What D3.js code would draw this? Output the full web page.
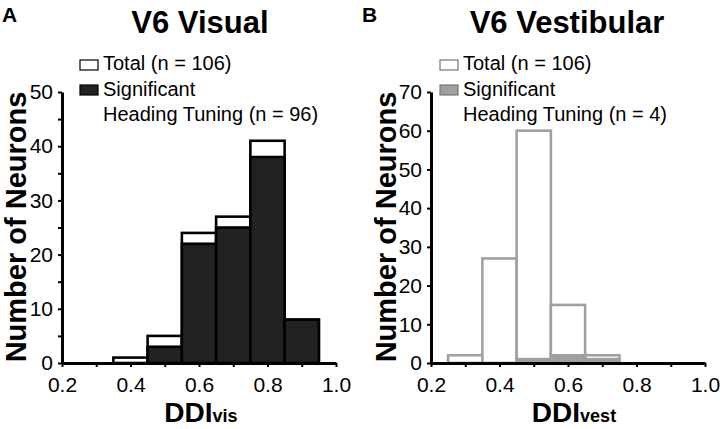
<!DOCTYPE html>
<html><head><meta charset="utf-8">
<script src="https://cdn.jsdelivr.net/npm/d3@7"></script>
<style>
body{margin:0;background:#fff;}
svg{display:block;font-family:"Liberation Sans",Arial,sans-serif;}
</style></head>
<body>
<svg id="c" width="720" height="429"></svg>
<script>
// Data
const binStartsA = [0.35, 0.45, 0.55, 0.65, 0.75, 0.85];
const totalA = [1, 5, 24, 27, 41, 8];
const sigA = [0, 3, 22, 25, 38, 8];
const binStartsB = [0.25, 0.35, 0.45, 0.55, 0.65];
const totalB = [2, 27, 60, 15, 2];
const sigB = [0, 0, 1, 2, 1];
const binWidth = 0.1;
const xTicks = [0.2, 0.3, 0.4, 0.5, 0.6, 0.7, 0.8, 0.9, 1.0];
const yTicksA = [0, 5, 10, 15, 20, 25, 30, 35, 40, 45, 50];
const yTicksB = [0, 10, 20, 30, 40, 50, 60, 70];

const svg = d3.select("#c");

const panels = [
  {letter:"A", title:"V6 Visual", xr:[62,336], ymax:50, yTicks:yTicksA, starts:binStartsA, total:totalA, sig:sigA,
   stroke:"#000", sigFill:"#222", legendTotal:"Total (n = 106)", legendSig:["Significant","Heading Tuning (n = 96)"],
   xlab:"DDI", sub:"vis", letterX:2, titleX:200, legX:80, xlabX:201, ylabX:26},
  {letter:"B", title:"V6 Vestibular", xr:[431,705], ymax:70, yTicks:yTicksB, starts:binStartsB, total:totalB, sig:sigB,
   stroke:"#a0a0a0", sigFill:"#a0a0a0", legendTotal:"Total (n = 106)", legendSig:["Significant","Heading Tuning (n = 4)"],
   xlab:"DDI", sub:"vest", letterX:362, titleX:567, legX:440, xlabX:574, ylabX:396}
];

panels.forEach(p => {
  const x = d3.scaleLinear().domain([0.2, 1.0]).range(p.xr);
  const y = d3.scaleLinear().domain([0, p.ymax]).range([363, 92]);
  const g = svg.append("g");

  const data = p.starts.map((s,i)=>({s, t:p.total[i], g:p.sig[i]}));
  g.selectAll("rect.tot").data(data).join("rect").attr("class","tot")
    .attr("x", d=>x(d.s)).attr("width", d=>x(d.s+binWidth)-x(d.s))
    .attr("y", d=>y(d.t)).attr("height", d=>y(0)-y(d.t))
    .attr("fill","#fff").attr("stroke", p.stroke).attr("stroke-width", 2.6);
  g.selectAll("rect.sig").data(data.filter(d=>d.g>0)).join("rect").attr("class","sig")
    .attr("x", d=>x(d.s)).attr("width", d=>x(d.s+binWidth)-x(d.s))
    .attr("y", d=>y(d.g)).attr("height", d=>y(0)-y(d.g))
    .attr("fill", p.sigFill).attr("stroke", p.letter==="A" ? "#000" : p.sigFill).attr("stroke-width", 2.6);

  const xAxis = d3.axisBottom(x).tickValues(xTicks).tickSize(4).tickSizeOuter(0)
    .tickFormat(d => (Math.round(d*10)%2===0) ? d3.format(".1f")(d) : "");
  const xg = g.append("g").attr("transform","translate(0,363)").call(xAxis);
  const yAxis = d3.axisLeft(y).tickValues(p.yTicks).tickSize(4).tickSizeOuter(0)
    .tickFormat(d => d%10===0 ? d : "");
  const yg = g.append("g").attr("transform",`translate(${p.xr[0]},0)`).call(yAxis);
  [xg, yg].forEach(a => {
    a.select(".domain").attr("stroke","#000").attr("stroke-width",3);
    a.selectAll(".tick line").attr("stroke","#000").attr("stroke-width",2);
    a.selectAll(".tick text").attr("fill","#000").attr("font-size",21)
      .attr("font-family",'"Liberation Sans",Arial,sans-serif');
  });
  xg.selectAll(".tick text").attr("dy","0.71em").attr("y",14);
  yg.selectAll(".tick text").attr("x",-9);

  svg.append("text").attr("x",p.letterX).attr("y",22).attr("font-size",21).attr("font-weight","bold").text(p.letter);
  svg.append("text").attr("x",p.titleX).attr("y",33).attr("text-anchor","middle").attr("font-size",31).attr("font-weight","bold").text(p.title);

  svg.append("rect").attr("x",p.legX).attr("y",60).attr("width",18).attr("height",10)
    .attr("fill","#fff").attr("stroke", p.letter==="A"?"#000":"#777").attr("stroke-width",1.2);
  svg.append("rect").attr("x",p.legX).attr("y",85).attr("width",18).attr("height",10)
    .attr("fill", p.letter==="A"?"#222":"#a0a0a0").attr("stroke", p.letter==="A"?"#000":"#777").attr("stroke-width",1.2);
  svg.append("text").attr("x",p.legX+23).attr("y",70).attr("font-size",20).text(p.legendTotal);
  svg.append("text").attr("x",p.legX+23).attr("y",96).attr("font-size",20).text(p.legendSig[0]);
  svg.append("text").attr("x",p.legX+23).attr("y",121).attr("font-size",20).text(p.legendSig[1]);

  svg.append("text").attr("transform",`translate(${p.ylabX},227) rotate(-90)`).attr("text-anchor","middle")
    .attr("font-size",29).attr("font-weight","bold").text("Number of Neurons");

  const xl = svg.append("text").attr("x",p.xlabX).attr("y",422).attr("text-anchor","middle").attr("font-weight","bold");
  xl.append("tspan").attr("font-size",28).text(p.xlab);
  xl.append("tspan").attr("font-size",18).text(p.sub);
});
</script>
</body></html>
